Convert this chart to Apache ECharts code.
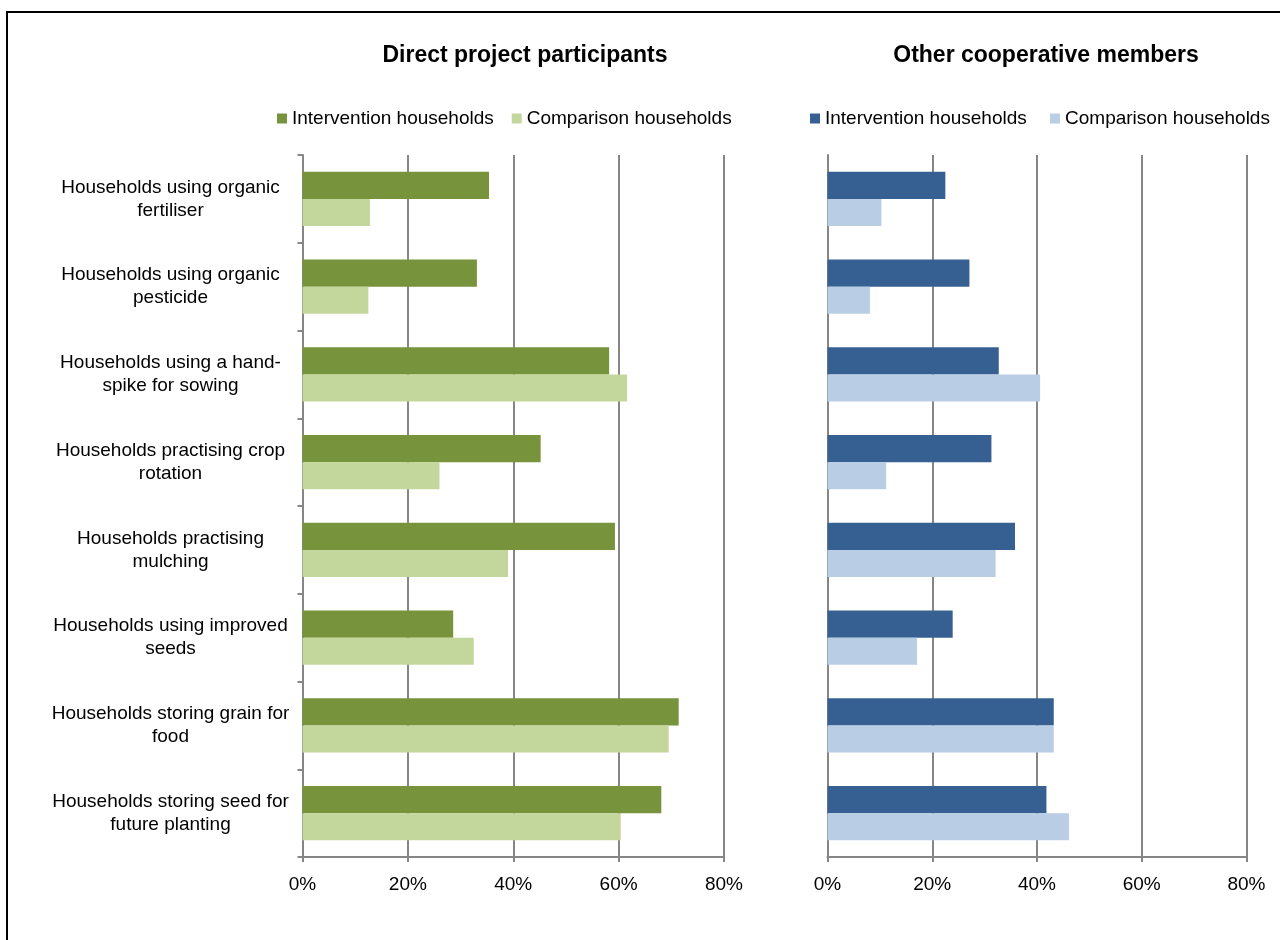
<!DOCTYPE html>
<html>
<head>
<meta charset="utf-8">
<script src="https://cdn.jsdelivr.net/npm/echarts@6/dist/echarts.min.js"></script>
<style>
  html, body { margin: 0; padding: 0; background: #ffffff; }
  #chart { width: 1280px; height: 940px; }
</style>
</head>
<body>
<div id="chart"></div>
<script>
// Practices adopted, share of households (%)
const categories = [
  'Households using organic\nfertiliser',
  'Households using organic\npesticide',
  'Households using a hand-\nspike for sowing',
  'Households practising crop\nrotation',
  'Households practising\nmulching',
  'Households using improved\nseeds',
  'Households storing grain for\nfood',
  'Households storing seed for\nfuture planting'
];
const panelTitles = ['Direct project participants', 'Other cooperative members'];
const seriesNames = ['Intervention households', 'Comparison households'];

// Direct project participants
const directIntervention = [35.4, 33.1, 58.2, 45.2, 59.3, 28.6, 71.4, 68.1];
const directComparison   = [12.8, 12.5, 61.6, 26.0, 39.0, 32.5, 69.5, 60.4];

// Other cooperative members
const otherIntervention = [22.5, 27.1, 32.7, 31.3, 35.8, 23.9, 43.2, 41.8];
const otherComparison   = [10.3,  8.1, 40.6, 11.2, 32.1, 17.1, 43.2, 46.1];

const xTicks = { min: 0, max: 80, interval: 20 };

const GREY = '#868686';
const FONT = '"Liberation Sans", Arial, sans-serif';
const FS = 19;
const colors = {
  directIntervention: '#77933C',
  directComparison: '#C3D69B',
  otherIntervention: '#366092',
  otherComparison: '#B9CDE5'
};

function valueAxis(gridIndex) {
  return {
    type: 'value',
    gridIndex: gridIndex,
    min: xTicks.min,
    max: xTicks.max,
    interval: xTicks.interval,
    axisLine: { show: true, lineStyle: { color: GREY, width: 2 } },
    axisTick: { show: true, length: 5, lineStyle: { color: GREY, width: 2 } },
    splitLine: { show: true, lineStyle: { color: GREY, width: 2 } },
    axisLabel: {
      formatter: '{value}%',
      color: '#000', fontFamily: FONT, fontSize: FS, margin: 18
    }
  };
}

function categoryAxis(gridIndex, withLabels) {
  return {
    type: 'category',
    gridIndex: gridIndex,
    data: categories,
    inverse: true,
    axisLine: { show: true, lineStyle: { color: GREY, width: 2 } },
    axisTick: { show: withLabels, length: 5, lineStyle: { color: GREY, width: 2 } },
    axisLabel: withLabels ? {
      show: true, color: '#000', fontFamily: FONT, fontSize: FS,
      align: 'center', margin: 132, lineHeight: 23
    } : { show: false }
  };
}

function barSeries(name, data, color, idx) {
  return {
    name: name,
    type: 'bar',
    xAxisIndex: idx,
    yAxisIndex: idx,
    data: data,
    barGap: '0%',
    barCategoryGap: '38%',
    itemStyle: { color: color },
    emphasis: { disabled: true }
  };
}

function legendFor(left, names, cols) {
  return {
    left: left, top: 104, width: 560, itemWidth: 10, itemHeight: 10, itemGap: 18, icon: 'rect',
    data: [
      { name: names[0], itemStyle: { color: cols[0] } },
      { name: names[1], itemStyle: { color: cols[1] } }
    ],
    textStyle: { fontFamily: FONT, fontSize: FS, color: '#000' },
    selectedMode: false
  };
}

const chart = echarts.init(document.getElementById('chart'), null, { renderer: 'canvas' });

// Right-panel series names carry a trailing space so each panel keeps its own legend entries
const rightNames = [seriesNames[0] + ' ', seriesNames[1] + ' '];

chart.setOption({
  animation: false,
  backgroundColor: '#ffffff',
  graphic: [{
    type: 'rect',
    shape: { x: 7, y: 12, width: 1300, height: 1000 },
    style: { fill: 'none', stroke: '#000', lineWidth: 2 },
    silent: true
  }],
  title: [
    { text: panelTitles[0], left: 520, top: 39, textAlign: 'center',
      textStyle: { fontFamily: FONT, fontSize: 23, fontWeight: 'bold', color: '#000' } },
    { text: panelTitles[1], left: 1041, top: 39, textAlign: 'center',
      textStyle: { fontFamily: FONT, fontSize: 23, fontWeight: 'bold', color: '#000' } }
  ],
  legend: [
    legendFor(272, seriesNames, [colors.directIntervention, colors.directComparison]),
    legendFor(805, rightNames, [colors.otherIntervention, colors.otherComparison])
  ],
  grid: [
    { left: 302.5, right: 556, top: 155, bottom: 83 },
    { left: 827.5, right: 33.5, top: 155, bottom: 83 }
  ],
  xAxis: [valueAxis(0), valueAxis(1)],
  yAxis: [categoryAxis(0, true), categoryAxis(1, false)],
  series: [
    barSeries(seriesNames[0], directIntervention, colors.directIntervention, 0),
    barSeries(seriesNames[1], directComparison, colors.directComparison, 0),
    barSeries(rightNames[0], otherIntervention, colors.otherIntervention, 1),
    barSeries(rightNames[1], otherComparison, colors.otherComparison, 1)
  ]
});
</script>
</body>
</html>
